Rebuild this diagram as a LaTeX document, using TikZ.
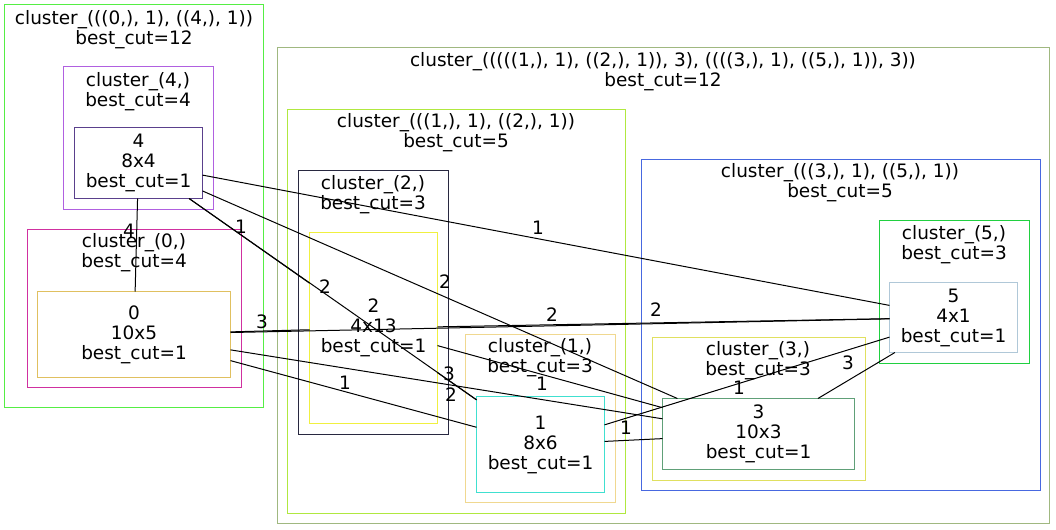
\documentclass[tikz,border=0pt]{standalone}
\usepackage{fontspec}
\setmainfont{DejaVu Sans}
\definecolor{clrout}{HTML}{55EE44}
\definecolor{clrfour}{HTML}{B060E0}
\definecolor{bdrfour}{HTML}{5A408C}
\definecolor{clrzero}{HTML}{D030A0}
\definecolor{bdrzero}{HTML}{E0C060}
\definecolor{clrbig}{HTML}{A0B880}
\definecolor{clronetwo}{HTML}{B0E840}
\definecolor{clrtwo}{HTML}{282840}
\definecolor{bdrtwo}{HTML}{F0F040}
\definecolor{clrone}{HTML}{F0D890}
\definecolor{bdrone}{HTML}{40E0D0}
\definecolor{clrthreefive}{HTML}{4868E0}
\definecolor{clrfive}{HTML}{20D040}
\definecolor{bdrfive}{HTML}{B0C8D8}
\definecolor{clrthree}{HTML}{E0E060}
\definecolor{bdrthree}{HTML}{60A078}
\tikzset{
  vtx/.style={draw,rectangle,align=center,inner sep=0pt,outer sep=0pt,line width=0.75pt},
  ttl/.style={align=center,inner sep=0pt},
  wgt/.style={inner sep=0pt},
  frame/.style={draw=#1,line width=0.75pt},
}
\begin{document}
\begin{tikzpicture}[x=0.75pt,y=-0.75pt,line width=0.75pt,
    font=\fontsize{13.85}{15}\selectfont]
  \useasboundingbox (0,0) rectangle (1056,529);
  % clusters
  \draw[frame=clrout] (4.5,4.5) rectangle (263.5,407.5);
  \draw[frame=clrfour] (63.5,66.5) rectangle (213.5,209.5);
  \draw[frame=clrzero] (27.5,229.5) rectangle (241.5,387.5);
  \draw[frame=clrbig] (277.5,47.5) rectangle (1049.5,523.5);
  \draw[frame=clronetwo] (287.5,109.5) rectangle (625.5,513.5);
  \draw[frame=clrtwo] (298.5,170.5) rectangle (448.5,434.5);
  \draw[frame=clrone] (465.5,334.5) rectangle (615.5,502.5);
  \draw[frame=clrthreefive] (641.5,159.5) rectangle (1040.5,490.5);
  \draw[frame=clrfive] (879.5,220.5) rectangle (1029.5,363.5);
  \draw[frame=clrthree] (652.5,337.5) rectangle (865.5,480.5);
  \draw
    (134,30) node[ttl] (tOut){cluster\_(((0,), 1), ((4,), 1))\\best\_cut=12}
    (138,91.5) node[ttl] (tFour){cluster\_(4,)\\best\_cut=4}
    (134,253) node[ttl] (tZero){cluster\_(0,)\\best\_cut=4}
    (663,71.5) node[ttl] (tBig){cluster\_(((((1,), 1), ((2,), 1)), 3), ((((3,), 1), ((5,), 1)), 3))\\best\_cut=12}
    (456,133) node[ttl] (tOneTwo){cluster\_(((1,), 1), ((2,), 1))\\best\_cut=5}
    (373,194.5) node[ttl] (tTwo){cluster\_(2,)\\best\_cut=3}
    (540,358) node[ttl] (tOne){cluster\_(1,)\\best\_cut=3}
    (840,183) node[ttl] (tThreeFive){cluster\_(((3,), 1), ((5,), 1))\\best\_cut=5}
    (954,244.5) node[ttl] (tFive){cluster\_(5,)\\best\_cut=3}
    (758,361) node[ttl] (tThree){cluster\_(3,)\\best\_cut=3};
  % nodes
  \draw
    (138.5,163) node[vtx,draw=bdrfour,minimum width=96pt,minimum height=53.25pt] (4){4\\8x4\\best\_cut=1}
    (134,334.5) node[vtx,draw=bdrzero,minimum width=144.75pt,minimum height=64.5pt] (0){0\\10x5\\best\_cut=1}
    (373.5,328) node[vtx,draw=bdrtwo,minimum width=96pt,minimum height=143.25pt] (2){2\\4x13\\best\_cut=1}
    (540.5,444.5) node[vtx,draw=bdrone,minimum width=96pt,minimum height=72pt] (1){1\\8x6\\best\_cut=1}
    (953.5,317.5) node[vtx,draw=bdrfive,minimum width=96pt,minimum height=52.5pt] (5){5\\4x1\\best\_cut=1}
    (758.5,434) node[vtx,draw=bdrthree,minimum width=144pt,minimum height=53.25pt] (3){3\\10x3\\best\_cut=1};
  \begin{scope}[-]
    \draw (4) to (0);
    \draw (4) to (2);
    \draw (4) to (1);
    \draw (4) to (5);
    \draw (4) to (3);
    \draw (0) to (2);
    \draw (0) to (5);
    \draw (0) to (1);
    \draw (0) to (3);
    \draw (2) to (5);
    \draw (2) to (1);
    \draw (2) to (3);
    \draw (1) to (3);
    \draw (1) to (5);
    \draw (3) to (5);
  \end{scope}
  % weights
  \draw
    (129,231) node[wgt] (w40){4}
    (241,227) node[wgt] (w42){1}
    (325,287) node[wgt] (w41){2}
    (538,228) node[wgt] (w45){1}
    (445,282) node[wgt] (w43){2}
    (262,322) node[wgt] (w02){3}
    (552,315) node[wgt] (w05){2}
    (345,383) node[wgt] (w01){1}
    (451,395) node[wgt] (w03){2}
    (656,310) node[wgt] (w25){2}
    (449,374) node[wgt] (w21){3}
    (542,384) node[wgt] (w23){1}
    (626,428) node[wgt] (w13){1}
    (739,388) node[wgt] (w15){1}
    (848,363) node[wgt] (w35){3};
\end{tikzpicture}
\end{document}
